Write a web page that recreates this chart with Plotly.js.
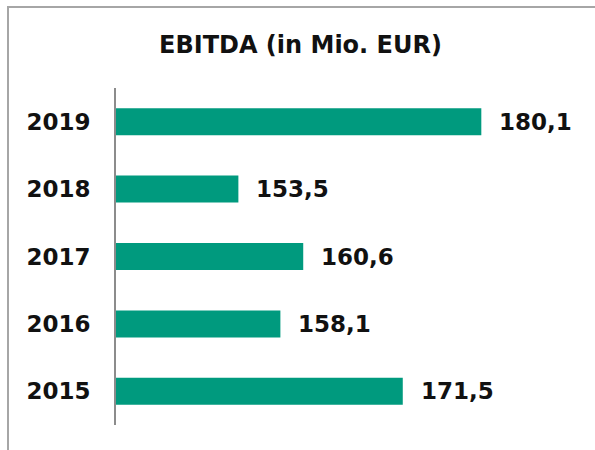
<!DOCTYPE html>
<html>
<head>
<meta charset="utf-8">
<script src="https://cdn.plot.ly/plotly-3.0.1.min.js"></script>
<style>
html,body{margin:0;padding:0;background:#fff;}
#wrap{position:relative;width:595px;height:450px;}
#chart{width:595px;height:450px;}
#frame{position:absolute;left:7px;top:6px;width:600px;height:460px;border-left:2px solid #a6a6a6;border-top:2px solid #a6a6a6;pointer-events:none;}
</style>
</head>
<body>
<div id="wrap"><div id="chart"></div><div id="frame"></div></div>
<script>
const years = [2015, 2016, 2017, 2018, 2019];
const ebitda = [171.5, 158.1, 160.6, 153.5, 180.1];
const labels = ['171,5', '158,1', '160,6', '153,5', '180,1'];

const font = 'DejaVu Sans, Verdana, sans-serif';
const trace = {
  type: 'bar',
  orientation: 'h',
  y: years,
  x: ebitda,
  marker: {color: '#009a7e'},
  hoverinfo: 'none'
};
const annotations = years.map((y, i) => ({
  x: ebitda[i], y: y, xref: 'x', yref: 'y',
  text: '<b>' + labels[i] + '</b>', showarrow: false,
  xanchor: 'left', xshift: 16,
  font: {family: font, size: 23, color: '#111'}
}));
const layout = {
  width: 595, height: 450,
  margin: {l: 116, r: 5, t: 88, b: 25},
  paper_bgcolor: '#fff', plot_bgcolor: '#fff',
  title: {text: '<b>EBITDA (in Mio. EUR)</b>', x: 0.505, xanchor: 'center', y: 0.9, yanchor: 'middle',
          font: {family: font, size: 24, color: '#111'}},
  bargap: 0.6,
  showlegend: false,
  xaxis: {range: [140.1, 192], showgrid: false, zeroline: false, showticklabels: false, showline: false, fixedrange: true},
  yaxis: {type: 'linear', range: [2014.5, 2019.5], tickvals: years, ticktext: years.map(String),
          showgrid: false, zeroline: false, showline: true, linecolor: '#8c8c8c', linewidth: 2,
          ticks: '', ticklabelstandoff: 19,
          tickfont: {family: font, size: 23, color: '#111', weight: 'bold'}},
  annotations: annotations
};
Plotly.newPlot('chart', [trace], layout, {displayModeBar: false, staticPlot: true});
</script>
</body>
</html>
